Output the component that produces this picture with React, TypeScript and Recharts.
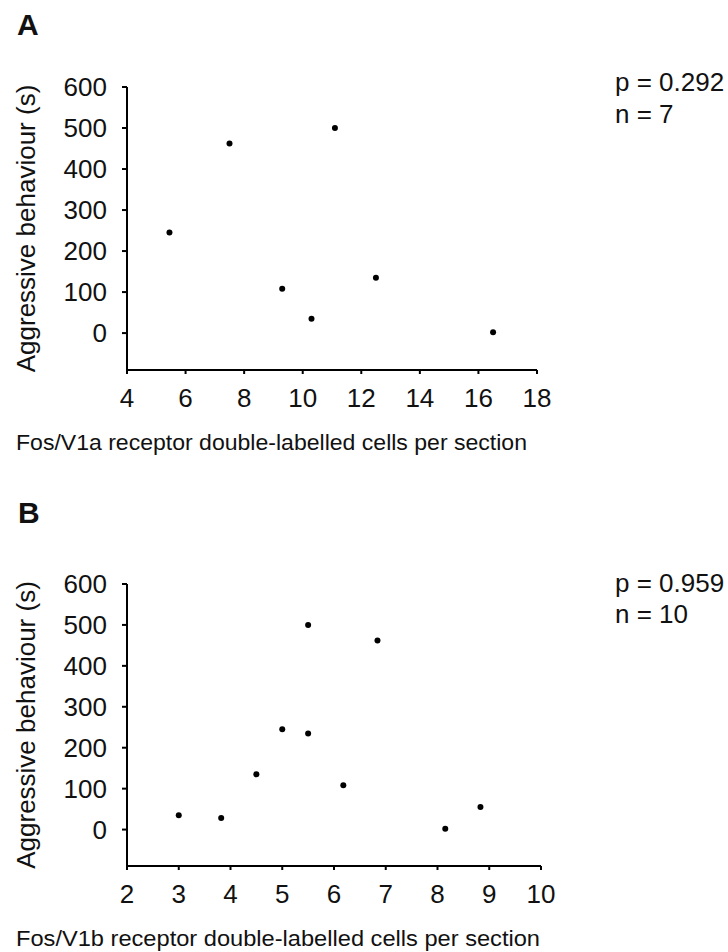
import { ScatterChart, Scatter, XAxis, YAxis, Label } from 'recharts';

// Aggressive behaviour (s) vs Fos / vasopressin receptor double-labelled cells
const yTicks = [0, 100, 200, 300, 400, 500, 600];

const xTicksA = [4, 6, 8, 10, 12, 14, 16, 18];
const v1aCells = [5.45, 7.5, 9.3, 10.3, 11.1, 12.5, 16.5];
const aggressionA = [245, 462, 108, 35, 500, 135, 2];

const xTicksB = [2, 3, 4, 5, 6, 7, 8, 9, 10];
const v1bCells = [3.0, 3.82, 4.5, 5.0, 5.5, 5.5, 6.18, 6.84, 8.15, 8.83];
const aggressionB = [35, 28, 135, 245, 235, 500, 108, 462, 2, 55];

const toPoints = (xs: number[], ys: number[]) => xs.map((x, i) => ({ x, y: ys[i] }));

const FONT = '"Liberation Sans", Arial, sans-serif';
const INK = '#111';

const Dot = (props: any) => <circle cx={props.cx} cy={props.cy} r={3} fill="#000" />;

const YTitle = (props: any) => {
  const vb = props.viewBox || { y: 0, height: 0 };
  const cx = 35;
  const cy = vb.y + vb.height / 2;
  return (
    <text
      x={cx}
      y={cy}
      transform={`rotate(-90 ${cx} ${cy})`}
      textAnchor="middle"
      fontSize={26}
      fill={INK}
    >
      Aggressive behaviour (s)
    </text>
  );
};

interface PanelProps {
  data: { x: number; y: number }[];
  xDomain: [number, number];
  xTicks: number[];
  yMin: number;
  height: number;
  right: number;
}

function Panel({ data, xDomain, xTicks, yMin, height, right }: PanelProps) {
  const axisStyle = { stroke: '#000', strokeWidth: 2 };
  const tickStyle = { fontSize: 26, fill: INK, fontFamily: FONT };
  return (
    <ScatterChart width={728} height={height} margin={{ top: 87, right, bottom: 0, left: 0 }}>
      <XAxis
        type="number"
        dataKey="x"
        domain={xDomain}
        ticks={xTicks}
        interval={0}
        height={50}
        axisLine={axisStyle}
        tickLine={axisStyle}
        tickSize={4}
        tickMargin={15}
        tick={tickStyle}
      />
      <YAxis
        type="number"
        dataKey="y"
        domain={[yMin, 600]}
        ticks={yTicks}
        interval={0}
        width={127}
        axisLine={axisStyle}
        tickLine={axisStyle}
        tickSize={5}
        tickMargin={15}
        tick={tickStyle}
      >
        <Label content={YTitle} />
      </YAxis>
      <Scatter data={data} shape={Dot} isAnimationActive={false} />
    </ScatterChart>
  );
}

export default function App() {
  return (
    <div
      style={{
        position: 'absolute',
        top: 0,
        left: 0,
        width: 728,
        height: 952,
        background: '#fff',
        fontFamily: FONT,
        overflow: 'hidden',
      }}
    >
      <div style={{ position: 'absolute', top: 0, left: 0 }}>
        <Panel
          data={toPoints(v1aCells, aggressionA)}
          xDomain={[4, 18]}
          xTicks={xTicksA}
          yMin={-90}
          height={420}
          right={191}
        />
      </div>
      <div style={{ position: 'absolute', top: 497, left: 0 }}>
        <Panel
          data={toPoints(v1bCells, aggressionB)}
          xDomain={[2, 10]}
          xTicks={xTicksB}
          yMin={-89}
          height={419}
          right={187}
        />
      </div>
      <svg
        width={728}
        height={952}
        style={{ position: 'absolute', top: 0, left: 0, pointerEvents: 'none' }}
      >
        <g fill={INK} fontFamily={FONT}>
          <text x={17} y={35} fontSize={30} fontWeight="bold">A</text>
          <text x={615} y={91} fontSize={26}>p = 0.292</text>
          <text x={615} y={123} fontSize={26}>n = 7</text>
          <text x={16} y={450} fontSize={22} textLength={511} lengthAdjust="spacingAndGlyphs">
            Fos/V1a receptor double-labelled cells per section
          </text>

          <text x={18} y={523} fontSize={30} fontWeight="bold">B</text>
          <text x={615} y={592} fontSize={26}>p = 0.959</text>
          <text x={615} y={623} fontSize={26}>n = 10</text>
          <text x={16} y={946} fontSize={22} textLength={524} lengthAdjust="spacingAndGlyphs">
            Fos/V1b receptor double-labelled cells per section
          </text>
        </g>
      </svg>
    </div>
  );
}
